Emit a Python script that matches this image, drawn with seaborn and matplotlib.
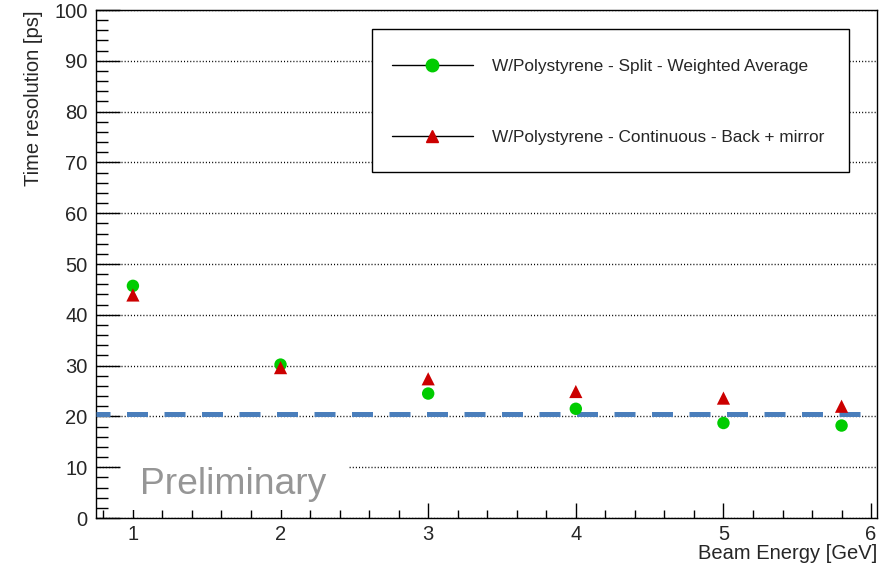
import matplotlib
matplotlib.use("Agg")
import matplotlib.pyplot as plt
import matplotlib.patches as mpatches
from matplotlib.lines import Line2D
from matplotlib.ticker import MultipleLocator
import seaborn as sns
import pandas as pd

# ---- data ----
energy = [1, 2, 3, 4, 5, 5.8]
split_weighted = [45.7, 30.2, 24.5, 21.5, 18.7, 18.2]
continuous_mirror = [43.9, 29.6, 27.4, 24.9, 23.6, 22.0]
series_names = ["W/Polystyrene - Split - Weighted Average",
                "W/Polystyrene - Continuous - Back + mirror"]
reference_level = 20.4

sns.set_theme(style="white")
plt.rcParams['font.family'] = ['Liberation Sans', 'DejaVu Sans']

df = pd.DataFrame({
    "energy": energy * 2,
    "res": split_weighted + continuous_mirror,
    "series": [series_names[0]] * len(energy) + [series_names[1]] * len(energy),
})

fig = plt.figure(figsize=(8.85, 5.68), dpi=100)
ax = fig.add_axes([96/885, 50/568, 781/885, 508/568])

green = "#00cc00"
red = "#cc0000"

sns.scatterplot(data=df[df.series == series_names[0]], x="energy", y="res",
                color=green, marker="o", s=80, edgecolor="none", ax=ax,
                legend=False, zorder=4)
sns.scatterplot(data=df[df.series == series_names[1]], x="energy", y="res",
                color=red, marker="^", s=90, edgecolor="none", ax=ax,
                legend=False, zorder=4)

ax.axhline(reference_level, color="#4a7ebb", lw=3.6,
           linestyle=(1.4, (4.2, 3.3)), zorder=3)

ax.set_xlim(0.75, 6.04)
ax.set_ylim(0, 100)

ax.xaxis.set_major_locator(MultipleLocator(1))
ax.xaxis.set_minor_locator(MultipleLocator(0.2))
ax.yaxis.set_major_locator(MultipleLocator(10))
ax.yaxis.set_minor_locator(MultipleLocator(2))

ax.tick_params(axis="x", which="major", direction="in", length=11, width=1,
               labelsize=14.5, pad=5, bottom=True, top=False, color="black")
ax.tick_params(axis="x", which="minor", direction="in", length=5.5, width=1,
               bottom=True, top=False, color="black")
ax.tick_params(axis="y", which="major", direction="in", length=17, width=1,
               labelsize=14.5, pad=6, left=True, right=False, color="black")
ax.tick_params(axis="y", which="minor", direction="in", length=8.5, width=1,
               left=True, right=False, color="black")

ax.set_axisbelow(True)
ax.yaxis.grid(True, which="major", linestyle=(0, (0.75, 1.5)), color="black", lw=1.0)
ax.xaxis.grid(False)

for sp in ax.spines.values():
    sp.set_color("black")
    sp.set_linewidth(1.0)

ax.set_xlabel("Beam Energy [GeV]", fontsize=14.5, loc="right", labelpad=0)
ax.set_ylabel("Time resolution [ps]", fontsize=14.5, loc="top", labelpad=8)

# Preliminary pave
ax.add_patch(mpatches.Rectangle((25/781, 8/508), 227/781, 58/508,
                                transform=ax.transAxes, facecolor="white",
                                edgecolor="none", zorder=1))
ax.text(44/781, 33/508, "Preliminary", transform=ax.transAxes,
        fontsize=26.8, color="#969696", va="center", ha="left", zorder=2)

# legend box (frame drawn separately)
ax.add_patch(mpatches.Rectangle((276/781, 346/508), 477/781, 143/508,
                                transform=ax.transAxes, facecolor="white",
                                edgecolor="black", lw=1.0, zorder=5))
handles = [
    Line2D([], [], color="black", lw=1, marker="o", markersize=9,
           markerfacecolor=green, markeredgecolor=green),
    Line2D([], [], color="black", lw=1, marker="^", markersize=9,
           markerfacecolor=red, markeredgecolor=red),
]
leg = ax.legend(handles, series_names, loc="center left",
                bbox_to_anchor=(296/781, (518 - 102)/508),
                fontsize=12.4, frameon=False, borderpad=0,
                labelspacing=3.3, handlelength=4.7,
                handletextpad=1.1, borderaxespad=0)
leg.set_zorder(6)

fig.savefig("out.png", dpi=100)
